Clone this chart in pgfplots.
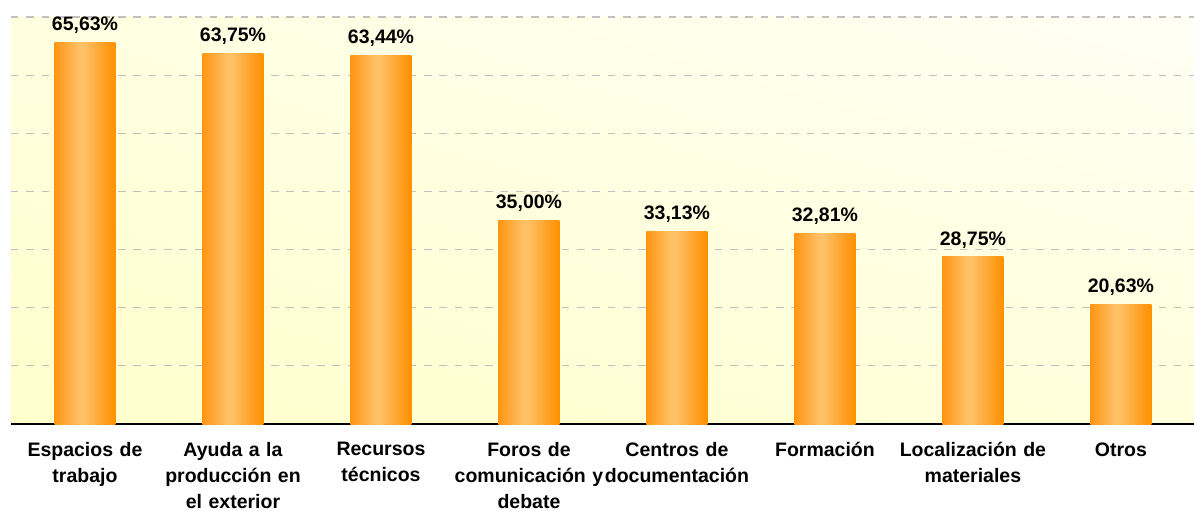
\documentclass[border=0pt]{standalone}
\usepackage{pgfplots}
\pgfplotsset{compat=1.18}
\usetikzlibrary{shadings}
\usepackage{fontspec}
\setmainfont{Liberation Sans}
\definecolor{barEdgeL}{RGB}{255,150,18}
\definecolor{barMid}{RGB}{255,192,102}
\definecolor{barEdgeR}{RGB}{255,144,0}
\definecolor{gridc}{RGB}{192,192,192}
\pgfdeclarehorizontalshading{barsh}{100bp}{color(0bp)=(barEdgeL); color(25bp)=(barEdgeL); color(45bp)=(barMid); color(49bp)=(barMid); color(75bp)=(barEdgeR); color(100bp)=(barEdgeR)}
\pgfplotsset{barshade/.style={draw=none, shade, shading=barsh, forget plot}}
\begin{document}
\begin{tikzpicture}
\useasboundingbox (-11bp,-87bp) rectangle (1183bp,424bp);
\begin{axis}[
  scale only axis,
  width=1184bp, height=407bp,
  xmin=-0.5, xmax=7.5,
  ymin=0, ymax=70,
  axis x line*=bottom,
  axis y line*=left,
  y axis line style={draw=none},
  x axis line style={black, line width=1.2bp},
  ytick={10,20,...,70},
  yticklabels={},
  ytick style={draw=none},
  ymajorgrids,
  major grid style={gridc, line width=1.1bp, dash pattern=on 7.5bp off 7.8bp},
  xtick={0,...,7},
  xticklabels={
    {Espacios de\\trabajo},
    {Ayuda a la\\producción en\\el exterior},
    {Recursos\\técnicos},
    {Foros de\\comunicación y\\debate},
    {Centros de\\documentación},
    {Formación},
    {Localización de\\materiales},
    {Otros}},
  xticklabel style={font=\bfseries\fontsize{19.5bp}{26bp}\selectfont, align=center, text width=160bp, anchor=north, yshift=-15bp},
  xtick style={draw=none},
  extra x ticks={-0.5,0.5,...,7.5},
  extra x tick labels={},
  extra x tick style={grid=none, major tick length=6bp, tick align=outside, tick style={draw=black!70, line width=1.2bp}},
  axis background/.style={shade, lower left=yellow!20, upper left=yellow!12, upper right=yellow!4, lower right=yellow!14},
  clip=false,
]
% shaded bars (half width 0.206 of a category)
\addplot[barshade] coordinates {(-0.206,0) (-0.206,65.63) (0.206,65.63) (0.206,0)} --cycle;
\addplot[barshade] coordinates {(0.794,0) (0.794,63.75) (1.206,63.75) (1.206,0)} --cycle;
\addplot[barshade] coordinates {(1.794,0) (1.794,63.44) (2.206,63.44) (2.206,0)} --cycle;
\addplot[barshade] coordinates {(2.794,0) (2.794,35.00) (3.206,35.00) (3.206,0)} --cycle;
\addplot[barshade] coordinates {(3.794,0) (3.794,33.13) (4.206,33.13) (4.206,0)} --cycle;
\addplot[barshade] coordinates {(4.794,0) (4.794,32.81) (5.206,32.81) (5.206,0)} --cycle;
\addplot[barshade] coordinates {(5.794,0) (5.794,28.75) (6.206,28.75) (6.206,0)} --cycle;
\addplot[barshade] coordinates {(6.794,0) (6.794,20.63) (7.206,20.63) (7.206,0)} --cycle;
% value labels
\addplot[only marks, mark=none,
  nodes near coords={\pgfmathprintnumber[fixed, fixed zerofill, precision=2, use comma, assume math mode=true]{\pgfplotspointmeta}\%},
  nodes near coords style={font=\bfseries\fontsize{19.5bp}{24bp}\selectfont, anchor=south, yshift=5bp, text=black},
] coordinates {
  (0,65.63) (1,63.75) (2,63.44) (3,35.00) (4,33.13) (5,32.81) (6,28.75) (7,20.63)
};
\end{axis}
\end{tikzpicture}
\end{document}
